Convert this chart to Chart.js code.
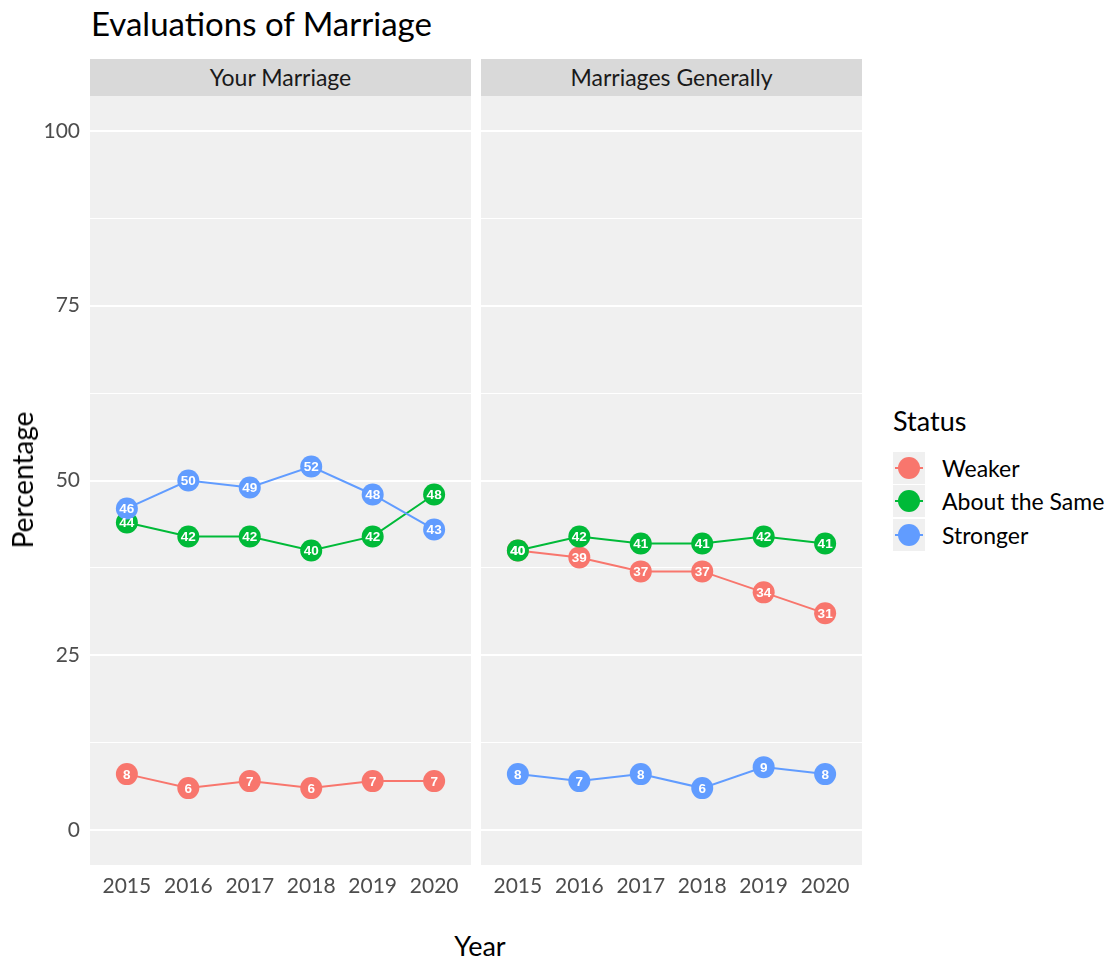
<!DOCTYPE html>
<html lang="en">
<head>
<meta charset="UTF-8" />
<title>Evaluations of Marriage</title>
<script src="https://cdn.jsdelivr.net/npm/chart.js"></script>
<style>
  body { margin: 0; background: #fff; font-family: Lato, "Noto Sans", sans-serif; }
  #wrap { position: relative; width: 1112px; height: 963px; }
  .abs { position: absolute; }
  #title { left: 91px; top: 3px; font-size: 33px; color: #000; }
  .strip { top: 59px; height: 37px; background: #d9d9d9; color: #1a1a1a; font-size: 23px;
           line-height: 37px; text-align: center; }
  #ytitle { left: 22px; top: 480px; font-size: 28px; color: #000;
            transform: translate(-50%, -50%) rotate(-90deg); white-space: nowrap; }
  #xtitle { left: 480px; top: 945px; font-size: 27px; color: #000; transform: translate(-50%, -50%); }
  #legend { left: 893px; top: 404px; }
  #legend .ttl { font-size: 27px; color: #000; height: 34px; line-height: 34px; margin-bottom: 13px; }
  .row { display: flex; align-items: center; height: 33.5px; }
  .key { position: relative; width: 32px; height: 32px; background: #f0f0f0; margin-right: 17px; }
  .key i { position: absolute; left: 2px; right: 2px; top: 15px; height: 2px; }
  .key b { position: absolute; left: 5px; top: 5px; width: 22px; height: 22px; border-radius: 50%; }
  .row span { font-size: 23px; color: #000; }
  canvas { position: absolute; }
</style>
</head>
<body>
<div id="wrap">
  <div id="title" class="abs">Evaluations of Marriage</div>
  <div class="abs strip" style="left:90px;width:381px">Your Marriage</div>
  <div class="abs strip" style="left:481px;width:381px">Marriages Generally</div>
  <canvas id="c1" width="480" height="810" style="left:0;top:90px"></canvas>
  <canvas id="c2" width="400" height="810" style="left:471px;top:90px"></canvas>
  <div id="ytitle" class="abs">Percentage</div>
  <div id="xtitle" class="abs">Year</div>
  <div id="legend" class="abs"><div class="ttl">Status</div></div>
</div>

<script>
  // datos
  const years = [2015, 2016, 2017, 2018, 2019, 2020];
  const statusNames = ['Weaker', 'About the Same', 'Stronger'];
  const statusColors = ['#F8766D', '#00BA38', '#619CFF'];

  const yourWeaker = [8, 6, 7, 6, 7, 7];
  const yourSame = [44, 42, 42, 40, 42, 48];
  const yourStronger = [46, 50, 49, 52, 48, 43];

  const genWeaker = [40, 39, 37, 37, 34, 31];
  const genSame = [40, 42, 41, 41, 42, 41];
  const genStronger = [8, 7, 8, 6, 9, 8];

  const yMajor = [0, 25, 50, 75, 100];
  const yMinor = [12.5, 37.5, 62.5, 87.5];

  // leyenda
  const legend = document.getElementById('legend');
  statusNames.forEach((name, i) => {
    const row = document.createElement('div');
    row.className = 'row';
    row.innerHTML = '<div class="key"><i style="background:' + statusColors[i] + '"></i><b style="background:' +
      statusColors[i] + '"></b></div><span>' + name + '</span>';
    legend.appendChild(row);
  });

  const panelBg = {
    id: 'panelBg',
    beforeDraw(chart) {
      const a = chart.chartArea, ctx = chart.ctx;
      ctx.save();
      ctx.fillStyle = '#f0f0f0';
      ctx.fillRect(a.left, a.top, a.right - a.left, a.bottom - a.top);
      ctx.restore();
    }
  };

  const pointLabels = {
    id: 'pointLabels',
    afterDatasetsDraw(chart) {
      const ctx = chart.ctx;
      ctx.save();
      ctx.font = 'bold 13.5px "Liberation Sans", Arial, sans-serif';
      ctx.fillStyle = '#fff';
      ctx.textAlign = 'center';
      ctx.textBaseline = 'middle';
      chart.data.datasets.forEach((ds, i) => {
        chart.getDatasetMeta(i).data.forEach((pt, j) => {
          ctx.fillText(String(ds.data[j].y), pt.x, pt.y + 1);
        });
      });
      ctx.restore();
    }
  };

  function noPad(s) {
    s.paddingTop = 0; s.paddingBottom = 0; s.paddingLeft = 0; s.paddingRight = 0;
  }

  function makePanel(id, series, showY) {
    const datasets = series.map((vals, i) => ({
      label: statusNames[i],
      data: vals.map((v, j) => ({ x: years[j], y: v })),
      borderColor: statusColors[i],
      backgroundColor: statusColors[i],
      borderWidth: 2,
      pointRadius: 11,
      pointBorderWidth: 0,
      pointHoverRadius: 11,
      order: 3 - i
    }));
    new Chart(document.getElementById(id), {
      type: 'line',
      data: { datasets },
      plugins: [panelBg, pointLabels],
      options: {
        responsive: false,
        animation: false,
        layout: { autoPadding: false, padding: { top: 6, right: 9, left: 0, bottom: 0 } },
        plugins: { legend: { display: false }, tooltip: { enabled: false } },
        scales: {
          x: {
            type: 'linear',
            min: 2014.4,
            max: 2020.6,
            afterBuildTicks: s => { s.ticks = years.map(v => ({ value: v })); },
            afterFit: s => { s.height = 35; noPad(s); },
            grid: { display: false },
            border: { display: false },
            ticks: { color: '#4d4d4d', font: { size: 21, family: 'Lato' }, padding: 1,
                     callback: v => String(v), maxRotation: 0, autoSkip: false }
          },
          y: {
            min: -5,
            max: 105,
            afterBuildTicks: s => {
              s.ticks = yMajor.concat(yMinor).sort((a, b) => a - b).map(v => ({ value: v }));
            },
            afterFit: s => { s.width = showY ? 90 : 10; noPad(s); },
            border: { display: false },
            grid: {
              color: '#ffffff',
              drawTicks: false,
              lineWidth: c => (yMajor.includes(c.tick.value) ? 2 : 1)
            },
            ticks: {
              display: showY,
              color: '#4d4d4d',
              font: { size: 21, family: 'Lato' },
              padding: 10,
              autoSkip: false,
              callback: v => (yMajor.includes(v) ? String(v) : '')
            }
          }
        }
      }
    });
  }

  makePanel('c1', [yourWeaker, yourSame, yourStronger], true);
  makePanel('c2', [genWeaker, genSame, genStronger], false);
</script>
</body>
</html>
